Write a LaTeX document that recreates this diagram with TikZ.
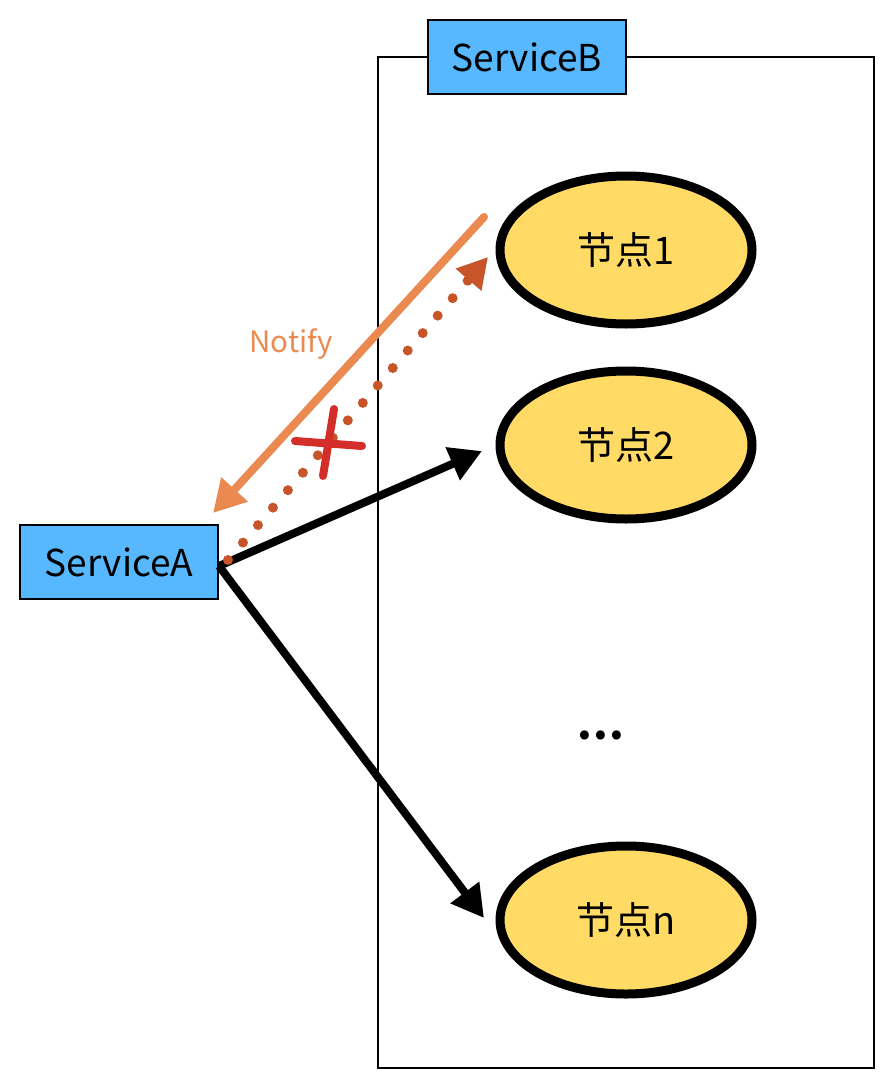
\documentclass[tikz,border=0pt]{standalone}
\usepackage{fontspec}
\setmainfont{Noto Sans CJK SC}
\usetikzlibrary{shapes.geometric,arrows.meta}
\definecolor{boxblue}{HTML}{57B7FF}
\definecolor{nodeyellow}{HTML}{FFDB66}
\definecolor{notifyorange}{HTML}{EB8A50}
\definecolor{calldot}{HTML}{C8552A}
\definecolor{crossred}{HTML}{D42E2A}
\tikzset{
  service/.style={draw, line width=2.2pt, fill=boxblue, minimum width=198pt, minimum height=74pt, inner sep=0pt, font=\fontsize{37}{44}\selectfont},
  instance/.style={ellipse, draw, line width=9pt, fill=nodeyellow, minimum width=252pt, minimum height=148pt, inner sep=0pt, font=\fontsize{38}{44}\selectfont},
  tip/.style={-{Triangle[length=32pt,width=34pt]}},
}
\begin{document}
\begin{tikzpicture}[x=1pt,y=-1pt]
      \useasboundingbox (0,0) rectangle (894,1089);
      \draw[line width=2pt] (378,57) rectangle (874,1068);
      \draw
        (527,57) node[service] (svcB){ServiceB}
        (119,562) node[service] (svcA){ServiceA}
        (626,250) node[instance] (n1){节点1}
        (626,445) node[instance] (n2){节点2}
        (626,920) node[instance] (nn){节点n}
        (601,735) node[font=\bfseries\fontsize{42}{42}\selectfont] (more){.\hspace{1.5pt}.\hspace{1.5pt}.}
        (291,344) node[text=notifyorange, font=\fontsize{29.5}{34}\selectfont] (notify){Notify};
      \coordinate (a0) at (219,566);
      \coordinate (a1) at (228,560);
      \coordinate (b1) at (488,257);
      \coordinate (b0) at (484,217);
      \coordinate (a2) at (213,513);
      \begin{scope}[line width=8pt]
        \draw[tip] (a0) to (482,451);
        \draw[tip] (a0) to (484,918);
        \draw[tip, notifyorange, line cap=round] (b0) to (a2);
        \draw[-{Triangle[length=30pt,width=32pt]}, calldot, line width=10pt, line cap=round, dash pattern=on 0pt off 23pt] (a1) to (b1);
      \end{scope}
      \draw[crossred, line width=8pt, line cap=round] (295,441) -- (362,446) (334,409) -- (323,476);
    \end{tikzpicture}
\end{document}
